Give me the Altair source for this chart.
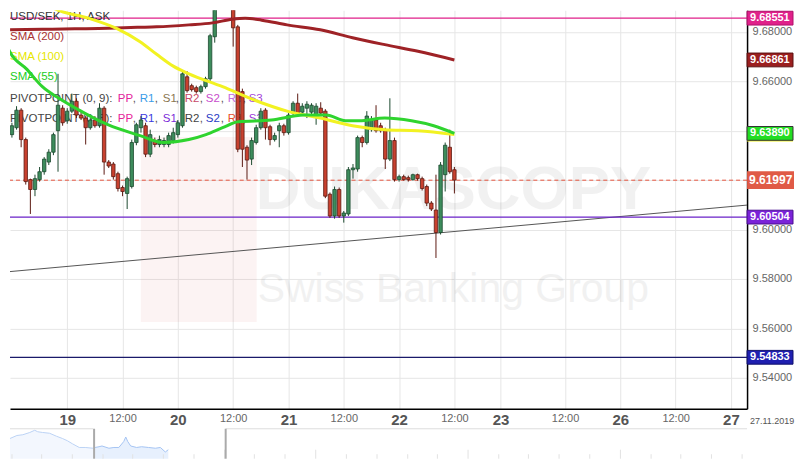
import altair as alt
import pandas as pd

W, H = 738, 399
K_DOM = [-0.42, 159.5]
P_DOM = [9.5275, 9.6887]

# ---------------- candles (hourly, index = hour) ----------------
hours = list(range(97))
opens = [9.6384, 9.6412, 9.6483, 9.6364, 9.6202, 9.6162, 9.6202, 9.6234, 9.6273, 9.6313,
         9.6400, 9.6491, 9.6440, 9.6479, 9.6519, 9.6463, 9.6451, 9.6412, 9.6443, 9.6420,
         9.6491, 9.6273, 9.6265, 9.6226, 9.6170, 9.6146, 9.6174, 9.6352, 9.6412, 9.6420,
         9.6305, 9.6360, 9.6344, 9.6344, 9.6344, 9.6360, 9.6384, 9.6420, 9.6618, 9.6582,
         9.6574, 9.6558, 9.6578, 9.6610, 9.6780, 9.6907, 9.6966, 9.6927, 9.6899, 9.6820,
         9.6558, 9.6333, 9.6285, 9.6352, 9.6412, 9.6483, 9.6416, 9.6364, 9.6400, 9.6420,
         9.6392, 9.6471, 9.6511, 9.6475, 9.6491, 9.6475, 9.6459, 9.6491, 9.6479, 9.6143,
         9.6055, 9.6162, 9.6055, 9.6063, 9.6242, 9.6245, 9.6372, 9.6352, 9.6404, 9.6443,
         9.6420, 9.6400, 9.6285, 9.6360, 9.6202, 9.6214, 9.6210, 9.6202, 9.6222, 9.6206,
         9.6174, 9.6107, 9.6079, 9.5988, 9.6222, 9.6333, 9.6242]
closes = [9.6420, 9.6483, 9.6364, 9.6194, 9.6162, 9.6206, 9.6234, 9.6285, 9.6313, 9.6384,
          9.6503, 9.6432, 9.6479, 9.6519, 9.6463, 9.6451, 9.6412, 9.6443, 9.6420, 9.6491,
          9.6273, 9.6257, 9.6214, 9.6166, 9.6154, 9.6206, 9.6352, 9.6424, 9.6443, 9.6305,
          9.6384, 9.6344, 9.6364, 9.6360, 9.6380, 9.6392, 9.6432, 9.6630, 9.6562, 9.6566,
          9.6558, 9.6578, 9.6610, 9.6784, 9.6907, 9.6966, 9.6927, 9.6899, 9.6816, 9.6325,
          9.6325, 9.6281, 9.6360, 9.6412, 9.6479, 9.6412, 9.6364, 9.6380, 9.6420, 9.6392,
          9.6463, 9.6511, 9.6471, 9.6499, 9.6507, 9.6503, 9.6499, 9.6471, 9.6135, 9.6055,
          9.6162, 9.6055, 9.6067, 9.6242, 9.6249, 9.6372, 9.6352, 9.6459, 9.6443, 9.6400,
          9.6400, 9.6285, 9.6360, 9.6202, 9.6214, 9.6202, 9.6202, 9.6222, 9.6206, 9.6166,
          9.6107, 9.6083, 9.5988, 9.6261, 9.6341, 9.6234, 9.6200]
highs = [9.6432, 9.6499, 9.6491, 9.6372, 9.6206, 9.6222, 9.6253, 9.6293, 9.6325, 9.6392,
         9.6630, 9.6503, 9.6491, 9.6550, 9.6531, 9.6475, 9.6459, 9.6451, 9.6459, 9.6511,
         9.6499, 9.6281, 9.6273, 9.6234, 9.6178, 9.6214, 9.6364, 9.6432, 9.6459, 9.6432,
         9.6404, 9.6372, 9.6380, 9.6372, 9.6392, 9.6412, 9.6443, 9.6641, 9.6641, 9.6590,
         9.6582, 9.6586, 9.6618, 9.6792, 9.6946, 9.7006, 9.7045, 9.6986, 9.6927, 9.6828,
         9.6570, 9.6341, 9.6372, 9.6424, 9.6491, 9.6491, 9.6424, 9.6392, 9.6432, 9.6428,
         9.6471, 9.6519, 9.6550, 9.6511, 9.6519, 9.6511, 9.6511, 9.6515, 9.6487, 9.6150,
         9.6174, 9.6170, 9.6075, 9.6253, 9.6265, 9.6380, 9.6380, 9.6479, 9.6459, 9.6503,
         9.6432, 9.6412, 9.6531, 9.6372, 9.6222, 9.6222, 9.6218, 9.6226, 9.6226, 9.6214,
         9.6182, 9.6115, 9.6222, 9.6273, 9.6352, 9.6404, 9.6253]
lows = [9.6372, 9.6404, 9.6333, 9.6182, 9.6063, 9.6135, 9.6194, 9.6222, 9.6261, 9.6301,
        9.6234, 9.6420, 9.6428, 9.6471, 9.6451, 9.6443, 9.6344, 9.6404, 9.6412, 9.6412,
        9.6222, 9.6249, 9.6202, 9.6154, 9.6135, 9.6083, 9.6166, 9.6341, 9.6392, 9.6293,
        9.6293, 9.6333, 9.6333, 9.6333, 9.6333, 9.6348, 9.6372, 9.6412, 9.6554, 9.6558,
        9.6550, 9.6550, 9.6570, 9.6598, 9.6756, 9.6899, 9.6895, 9.6891, 9.6740, 9.6313,
        9.6253, 9.6202, 9.6261, 9.6344, 9.6404, 9.6364, 9.6341, 9.6356, 9.6333, 9.6380,
        9.6384, 9.6463, 9.6463, 9.6467, 9.6451, 9.6467, 9.6424, 9.6459, 9.6127, 9.6047,
        9.6044, 9.6047, 9.6028, 9.6055, 9.6206, 9.6234, 9.6333, 9.6344, 9.6396, 9.6392,
        9.6392, 9.6245, 9.6277, 9.6194, 9.6194, 9.6198, 9.6194, 9.6198, 9.6198, 9.6158,
        9.6095, 9.6075, 9.5885, 9.5980, 9.6154, 9.6226, 9.6146]

# ---------------- indicators ----------------
sma200_k = [-0.4, 6.6, 13.6, 20.8, 27.2, 31.4, 38.4, 43.5, 47.8, 50.6, 54.2, 59.7, 66.9, 73.9, 80.9, 88.1, 96]
sma200_v = [9.6808, 9.6810, 9.6812, 9.6814, 9.6818, 9.6820, 9.6828, 9.6836, 9.6851, 9.6855, 9.6847,
            9.6828, 9.6808, 9.6776, 9.6748, 9.6721, 9.66861]
sma100_k = [3.8, 9.1, 16.6, 22.9, 27.8, 31.4, 35.0, 38.4, 45.7, 52.7, 59.7, 66.9, 73.9, 80.9, 88.1, 96]
sma100_v = [9.6966, 9.6895, 9.6855, 9.6812, 9.6760, 9.6709, 9.6661, 9.6630, 9.6578, 9.6523, 9.6479,
            9.6451, 9.6420, 9.6404, 9.6400, 9.6384]
sma55_k = [-1, -0.4, 3.2, 6.6, 10.2, 13.8, 20.8, 27.8, 32.9, 38.4, 42.1, 45.7, 49.1, 56.3, 63.3, 68.2,
           72.4, 75.4, 80.9, 86.7, 91.5, 96]
sma55_v = [9.6740, 9.6717, 9.6649, 9.6578, 9.6531, 9.6491, 9.6424, 9.6380, 9.6352, 9.6364, 9.6384,
           9.6412, 9.6436, 9.6443, 9.6463, 9.6463, 9.6440, 9.6440, 9.6451, 9.6440, 9.6420, 9.63890]
trend_k = [-0.42, 159.5]
trend_v = [9.5830, 9.6099]

pivot_levels = [9.68551, 9.60504, 9.54833]
pivot_colors = ["#e0218a", "#6a22c8", "#1a1a6a"]
last_price = 9.61997

# axis ticks
tick_vals = [12, 24, 36, 48, 60, 72, 84, 96, 106, 120, 132, 144, 156]
day_vals = [12, 36, 60, 84, 106, 132, 156]
day_names = ["19", "20", "21", "22", "23", "26", "27"]
price_ticks = [9.54, 9.56, 9.58, 9.60, 9.62, 9.64, 9.66, 9.68]

# right-hand price tags
tag_price = [9.68551, 9.66861, 9.63890, 9.60504, 9.54833]
tag_fill = ["#e0218a", "#9b1f1f", "#22dd22", "#7a22d8", "#1f1fb0"]
tag_stroke = ["#b0106a", "#5a1010", "#333333", "#4a1090", "#10106a"]
sma100_tag = 9.63838

# navigator overview
nav1_x = [0, 7, 13, 20, 25, 28, 33, 40, 47, 53, 58, 63, 70, 76, 84]
nav1_v = [27, 31, 32, 35, 38, 36, 35, 34, 30, 27, 24, 20, 15, 15, 14]
nav2_x = [86, 90, 93, 100, 105, 110, 115, 117, 119, 122, 128, 133, 140, 147, 152, 157, 160]
nav2_v = [15, 16, 17, 14, 15, 15, 23, 29, 23, 17, 15, 16, 15, 14, 15, 9, 12]
nav_ticks = [2, 32, 63, 94, 124, 155, 186, 217, 247, 278, 309, 340, 371, 402, 432, 463, 494,
             524, 555, 586, 617, 648, 678, 709, 740]
nav_major = [217, 309, 463, 617]

# ---------------- build ----------------
xs = alt.Scale(domain=K_DOM, nice=False, zero=False)
ys = alt.Scale(domain=P_DOM, nice=False, zero=False)

label_expr = "".join([f"datum.value=={v}?'{n}':" for v, n in zip(day_vals, day_names)]) + "'12:00'"
day_test = "indexof([" + ",".join(str(v) for v in day_vals) + "], datum.value) >= 0"
xaxis = alt.Axis(values=tick_vals, labelExpr=label_expr, grid=True, gridColor="#e6e6e6",
                 ticks=False, domainColor="#000000", domainWidth=1.5, labelPadding=4,
                 labelFont="Liberation Sans", labelOverlap=False, title=None,
                 labelFontSize={"condition": {"test": day_test, "value": 15}, "value": 11},
                 labelFontWeight={"condition": {"test": day_test, "value": "bold"}, "value": "normal"},
                 labelColor={"condition": {"test": day_test, "value": "#555555"}, "value": "#666666"})
yaxis = alt.Axis(orient="right", values=price_ticks, grid=True, gridColor="#e6e6e6",
                 labelExpr="(abs(datum.value-9.62)<0.001 || abs(datum.value-9.64)<0.001) ? '' : format(datum.value, '.5f')",
                 ticks=False, domainColor="#000000", domainWidth=1.5, labelColor="#666666",
                 labelFontSize=11, labelPadding=5, labelFont="Liberation Sans", title=None)


def X(f):
    return alt.X(f, scale=xs, axis=xaxis, title=None)


def Y(f):
    return alt.Y(f, scale=ys, axis=yaxis, title=None)


one = pd.DataFrame({"t": [""]})


def txt(text, px, py, color, size=11.5, weight="normal", align="left", font="Liberation Sans", opacity=1.0):
    return alt.Chart(pd.DataFrame({"t": [text]})).mark_text(
        align=align, baseline="middle", fontSize=size, font=font, fontWeight=weight,
        color=color, opacity=opacity).encode(x=alt.value(px), y=alt.value(py), text="t:N")


cd = pd.DataFrame({"k": hours, "open": opens, "close": closes, "high": highs, "low": lows})
cd["x1"] = cd["k"] - 0.37
cd["x2"] = cd["k"] + 0.37
cd["fillc"] = ["#3d8c5c" if c >= o else "#c8412f" for o, c in zip(opens, closes)]
cd["edge"] = ["#1d4a30" if c >= o else "#5c1a12" for o, c in zip(opens, closes)]

# watermark
wm_rect = alt.Chart(one).mark_rect(color="#d43030", opacity=0.06).encode(
    x=alt.value(131), x2=alt.value(247), y=alt.value(127), y2=alt.value(312))
wm1 = txt("DUKASCOPY", 444, 180, "#000000", size=62, weight="bold", align="center", opacity=0.05)
wm2 = txt("Swiss Banking Group", 444, 280, "#000000", size=41, align="center", opacity=0.05)

trend = alt.Chart(pd.DataFrame({"k": trend_k, "v": trend_v})).mark_line(
    color="#555555", strokeWidth=1, clip=True).encode(x=X("k:Q"), y=Y("v:Q"))
piv = alt.Chart(pd.DataFrame({"v": pivot_levels, "c": pivot_colors})).mark_rule(strokeWidth=1.2).encode(
    y=Y("v:Q"), color=alt.Color("c:N", scale=None))
lastline = alt.Chart(pd.DataFrame({"v": [last_price]})).mark_rule(
    color="#e8553f", strokeWidth=1, strokeDash=[4, 3]).encode(y=Y("v:Q"))

# legend
legend_layers = [
    txt("USD/SEK, 1H, ASK", 0, 7, "#333333"),
    txt("SMA (200)", 0, 27, "#a83232"),
    txt("SMA (100)", 0, 47, "#e6e600"),
    txt("SMA (55)", 0, 67, "#22cc22"),
]
tok_x = [116, 131, 138, 153, 161, 174, 183, 198, 204, 219, 226, 241, 247]
tok_t = ["PP", ",", "R1", ",", "S1", ",", "R2", ",", "S2", ",", "R3", ",", "S3"]
row1_c = ["#e4249c", "#555555", "#3a9ce8", "#555555", "#8a7650", "#555555", "#c84a68", "#555555",
          "#c84ccc", "#555555", "#c46be0", "#555555", "#a43bd8"]
row2_c = ["#e8249a", "#555555", "#3a3ae0", "#555555", "#7b2bd8", "#555555", "#444444", "#555555",
          "#2b3cc4", "#555555", "#e8502e", "#555555", "#9c36d8"]
legend_layers.append(txt("PIVOTPOINT (0, 9):", 0, 89, "#444444"))
legend_layers.append(txt("PIVOTPOINT (0, 8):", 0, 109, "#444444"))
for t, x, c1, c2 in zip(tok_t, tok_x, row1_c, row2_c):
    legend_layers.append(txt(t, x - 8, 89, c1))
    legend_layers.append(txt(t, x - 8, 109, c2))

wicks = alt.Chart(cd).mark_rule(strokeWidth=1, clip=True).encode(
    x=X("k:Q"), y=Y("high:Q"), y2="low:Q", color=alt.Color("edge:N", scale=None))
bodies = alt.Chart(cd).mark_rect(strokeWidth=0.8, clip=True).encode(
    x=X("x1:Q"), x2="x2:Q", y=Y("open:Q"), y2="close:Q",
    fill=alt.Fill("fillc:N", scale=None), stroke=alt.Stroke("edge:N", scale=None))

s200 = alt.Chart(pd.DataFrame({"k": sma200_k, "v": sma200_v})).mark_line(
    color="#9e2226", strokeWidth=3, interpolate="monotone", clip=True).encode(x=X("k:Q"), y=Y("v:Q"))
s100 = alt.Chart(pd.DataFrame({"k": sma100_k, "v": sma100_v})).mark_line(
    color="#f2f222", strokeWidth=3, interpolate="monotone", clip=True).encode(x=X("k:Q"), y=Y("v:Q"))
s55 = alt.Chart(pd.DataFrame({"k": sma55_k, "v": sma55_v})).mark_line(
    color="#2fd42f", strokeWidth=3, interpolate="monotone", clip=True).encode(x=X("k:Q"), y=Y("v:Q"))

box_path = "M-1,-0.3L1,-0.3L1,0.3L-1,0.3Z"
TAGW = 46
yellow_box = alt.Chart(pd.DataFrame({"v": [sma100_tag]})).mark_point(
    shape=box_path, size=TAGW * TAGW, filled=True, opacity=1, color="#eeee22").encode(
    x=alt.value(W + TAGW / 2), y=Y("v:Q"))
tags = pd.DataFrame({"v": tag_price, "f": tag_fill, "s": tag_stroke,
                     "lab": [f"{p:.5f}" for p in tag_price]})
tag_boxes = alt.Chart(tags).mark_point(shape=box_path, size=TAGW * TAGW, filled=True, opacity=1,
                                        strokeWidth=1).encode(
    x=alt.value(W + TAGW / 2), y=Y("v:Q"), fill=alt.Fill("f:N", scale=None), stroke=alt.Stroke("s:N", scale=None))
tag_text = alt.Chart(tags).mark_text(align="left", baseline="middle", fontSize=11, fontWeight="bold",
                                     font="Liberation Sans", color="#ffffff").encode(
    x=alt.value(W + 3), y=Y("v:Q"), text="lab:N")
lp = pd.DataFrame({"v": [last_price], "lab": [f"{last_price:.5f}"]})
last_box = alt.Chart(lp).mark_point(shape="M-1,-0.38L1,-0.38L1,0.38L-1,0.38Z", size=47 * 47,
                                     filled=True, opacity=1, color="#e05a46").encode(
    x=alt.value(W + 23.5), y=Y("v:Q"))
last_text = alt.Chart(lp).mark_text(align="left", baseline="middle", fontSize=12, fontWeight="bold",
                                    font="Liberation Sans", color="#ffffff").encode(
    x=alt.value(W + 2), y=Y("v:Q"), text="lab:N")
date_txt = txt("27.11.2019", W + 3, H + 12, "#555555", size=9)

main = alt.layer(
    wm_rect, wm1, wm2, trend, piv, lastline, *legend_layers, wicks, bodies, s200, s100, s55,
    yellow_box, tag_boxes, tag_text, last_box, last_text, date_txt
).properties(width=W, height=H)

# navigator
nxs = alt.Scale(domain=[0, 745], nice=False, zero=False)
nys = alt.Scale(domain=[0, 40], nice=False, zero=True)
n1 = alt.Chart(pd.DataFrame({"x": nav1_x, "v": nav1_v})).mark_area(
    color="#eef4fd", line={"color": "#bcd3f5", "strokeWidth": 1}).encode(
    x=alt.X("x:Q", scale=nxs, axis=None), y=alt.Y("v:Q", scale=nys, axis=None))
n2 = alt.Chart(pd.DataFrame({"x": nav2_x, "v": nav2_v})).mark_area(
    color="#dde9fc", line={"color": "#a5c4f3", "strokeWidth": 1}).encode(
    x=alt.X("x:Q", scale=nxs, axis=None), y=alt.Y("v:Q", scale=nys, axis=None))
ntick = alt.Chart(pd.DataFrame({"x": nav_ticks, "top": [12 if t in nav_major else 6 for t in nav_ticks]})).mark_rule(
    color="#e2e2e2", strokeWidth=1).encode(
    x=alt.X("x:Q", scale=nxs, axis=None), y=alt.Y("top:Q", scale=nys, axis=None), y2=alt.datum(0))
ntop = alt.Chart(pd.DataFrame({"a": [0, 218], "b": [84, 745]})).mark_rule(color="#dddddd", strokeWidth=1).encode(
    x=alt.X("a:Q", scale=nxs, axis=None), x2="b:Q", y=alt.value(0))
nhandle = alt.Chart(pd.DataFrame({"x": [85, 218]})).mark_rule(color="#aaaaaa", strokeWidth=2).encode(
    x=alt.X("x:Q", scale=nxs, axis=None))
nav = alt.layer(n1, n2, ntick, ntop, nhandle).properties(width=W, height=30)

chart = alt.vconcat(main, nav, spacing=0).configure_view(stroke=None).properties(padding=0)
chart.save("out.html", embed_options={"renderer": "svg", "actions": False})
